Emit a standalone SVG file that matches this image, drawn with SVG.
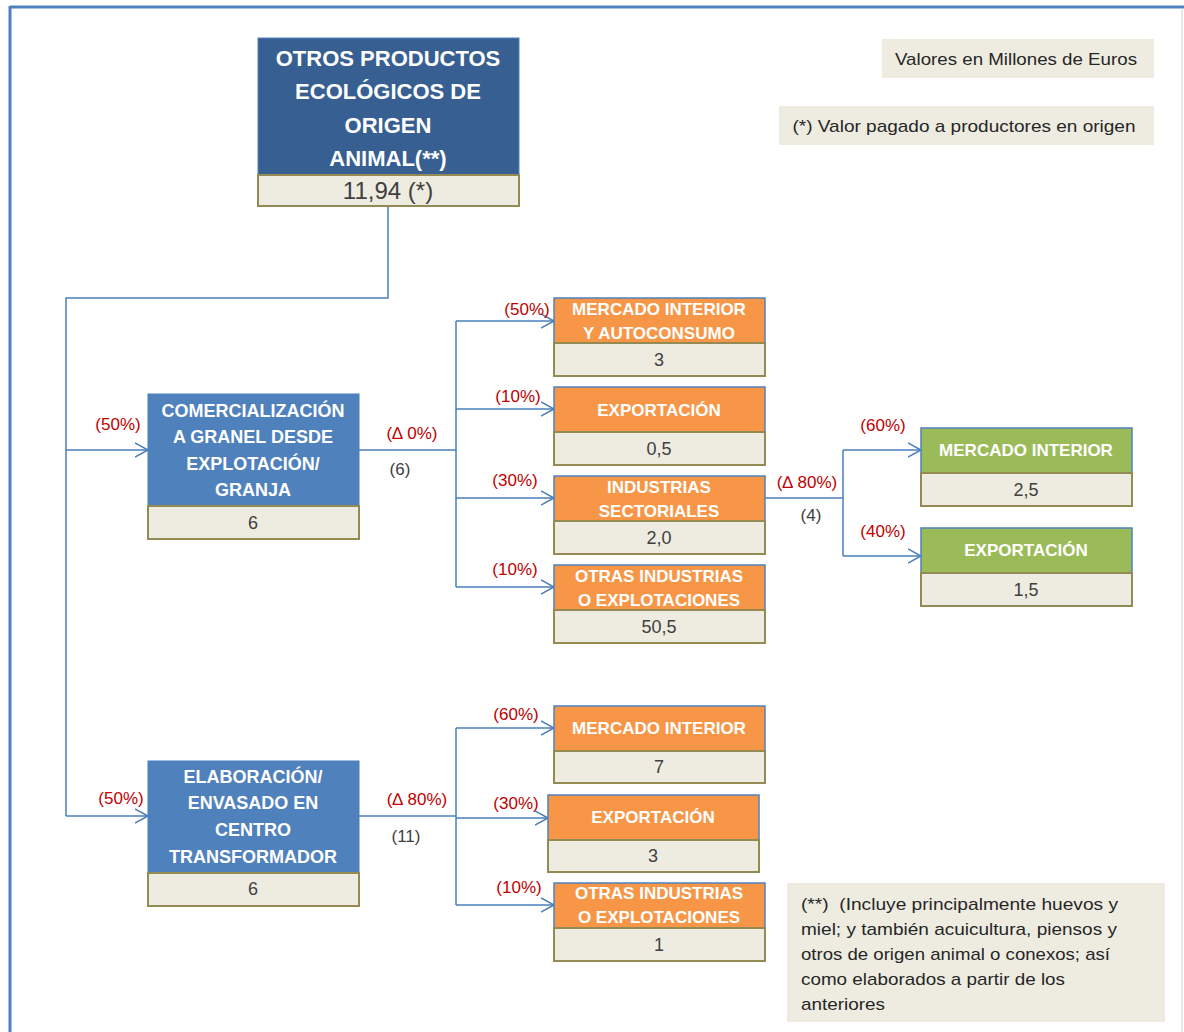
<svg xmlns="http://www.w3.org/2000/svg" width="1184" height="1032" viewBox="0 0 1184 1032">
<defs>
<marker id="arr" markerUnits="userSpaceOnUse" markerWidth="16" markerHeight="18" refX="13" refY="8" orient="auto">
<path d="M0,1 L13,8 L0,15" fill="none" stroke="#4a7ebb" stroke-width="1.5"/>
</marker>
<style>
text{font-family:"Liberation Sans",Arial,sans-serif;}
.conn{fill:none;stroke:#4a7ebb;stroke-width:1.5;}
.arw{marker-end:url(#arr);}
.val{fill:#eeece1;stroke:#948a54;stroke-width:2;}
.blue{fill:#4f81bd;stroke:#4a7ebb;stroke-width:1;}
.dark{fill:#375f91;stroke:#4f81bd;stroke-width:1;}
.orange{fill:#f79646;stroke:#4f81bd;stroke-width:1.5;}
.green{fill:#9bbb59;stroke:#4f81bd;stroke-width:1.5;}
.tw{fill:#fff;font-weight:bold;text-anchor:middle;dominant-baseline:central;}
.tv{fill:#404040;text-anchor:middle;dominant-baseline:central;font-size:18px;}
.big{font-size:24px;}
.pct{fill:#c00000;text-anchor:middle;dominant-baseline:central;font-size:17px;}
.num{fill:#404040;text-anchor:middle;dominant-baseline:central;font-size:17px;}
.note{fill:#262626;font-size:17px;dominant-baseline:central;}
.nbox{fill:#eeece1;}
</style>
</defs>
<rect x="0" y="0" width="1184" height="1032" fill="#fff"/>
<!-- frame -->
<line x1="10" y1="7" x2="1184" y2="7" stroke="#4f81bd" stroke-width="3"/>
<line x1="10" y1="6" x2="10" y2="1032" stroke="#4f81bd" stroke-width="3"/>
<line x1="1182" y1="8" x2="1182" y2="1032" stroke="#c8d3e0" stroke-width="1"/>

<!-- legends -->
<g id="legend-valores">
<rect class="nbox" x="882" y="39" width="272" height="39"/>
<text class="note" x="1016" y="59" text-anchor="middle" textLength="242" lengthAdjust="spacingAndGlyphs">Valores en Millones de Euros</text>
</g>
<g id="legend-origen">
<rect class="nbox" x="779" y="106" width="375" height="39"/>
<text class="note" x="964" y="126" text-anchor="middle" textLength="343" lengthAdjust="spacingAndGlyphs">(*) Valor pagado a productores en origen</text>
</g>
<g id="legend-nota">
<rect class="nbox" x="787" y="883" width="378" height="139"/>
<text class="note" x="801" y="904" textLength="317" lengthAdjust="spacingAndGlyphs">(**)&#160; (Incluye principalmente huevos y</text>
<text class="note" x="801" y="929" textLength="316" lengthAdjust="spacingAndGlyphs">miel; y también acuicultura, piensos y</text>
<text class="note" x="801" y="954" textLength="309" lengthAdjust="spacingAndGlyphs">otros de origen animal o conexos; así</text>
<text class="note" x="801" y="979" textLength="264" lengthAdjust="spacingAndGlyphs">como elaborados a partir de los</text>
<text class="note" x="801" y="1004" textLength="84" lengthAdjust="spacingAndGlyphs">anteriores</text>
</g>

<!-- connectors -->
<g id="connectors">
<polyline class="conn" points="388,206 388,298 66,298 66,816"/>
<line class="conn arw" x1="66" y1="450" x2="148" y2="450"/>
<line class="conn arw" x1="66" y1="816" x2="148" y2="816"/>
<line class="conn" x1="359" y1="450" x2="456" y2="450"/>
<line class="conn" x1="456" y1="321" x2="456" y2="587"/>
<line class="conn arw" x1="456" y1="321" x2="554" y2="321"/>
<line class="conn arw" x1="456" y1="409" x2="554" y2="409"/>
<line class="conn arw" x1="456" y1="498" x2="554" y2="498"/>
<line class="conn arw" x1="456" y1="587" x2="554" y2="587"/>
<line class="conn" x1="765" y1="498" x2="843" y2="498"/>
<line class="conn" x1="843" y1="450" x2="843" y2="556"/>
<line class="conn arw" x1="843" y1="450" x2="921" y2="450"/>
<line class="conn arw" x1="843" y1="556" x2="921" y2="556"/>
<line class="conn" x1="359" y1="816" x2="456" y2="816"/>
<line class="conn" x1="456" y1="728" x2="456" y2="905"/>
<line class="conn arw" x1="456" y1="728" x2="554" y2="728"/>
<line class="conn arw" x1="456" y1="818" x2="548" y2="818"/>
<line class="conn arw" x1="456" y1="905" x2="554" y2="905"/>
<text class="pct" x="118" y="424">(50%)</text>
<text class="pct" x="121" y="798">(50%)</text>
<text class="pct" x="412" y="433">(∆ 0%)</text>
<text class="num" x="400" y="469">(6)</text>
<text class="pct" x="527" y="309">(50%)</text>
<text class="pct" x="518" y="396">(10%)</text>
<text class="pct" x="515" y="480">(30%)</text>
<text class="pct" x="515" y="569">(10%)</text>
<text class="pct" x="807" y="482">(∆ 80%)</text>
<text class="num" x="811" y="515">(4)</text>
<text class="pct" x="883" y="425">(60%)</text>
<text class="pct" x="883" y="531">(40%)</text>
<text class="pct" x="417" y="799">(∆ 80%)</text>
<text class="num" x="406" y="836">(11)</text>
<text class="pct" x="516" y="714">(60%)</text>
<text class="pct" x="516" y="803">(30%)</text>
<text class="pct" x="519" y="887">(10%)</text>
</g>

<!-- root -->
<g id="node-root">
<rect class="dark" x="258" y="38" width="261" height="137"/>
<rect class="val" x="258" y="175" width="261" height="31"/>
<text class="tw" x="388" y="58" font-size="22">OTROS PRODUCTOS</text>
<text class="tw" x="388" y="91" font-size="22">ECOLÓGICOS DE</text>
<text class="tw" x="388" y="125" font-size="22">ORIGEN</text>
<text class="tw" x="388" y="158" font-size="22">ANIMAL(**)</text>
<text class="tv big" x="388" y="190">11,94 (*)</text>
</g>

<g id="node-comercializacion">
<rect class="blue" x="148" y="394" width="211" height="112"/>
<rect class="val" x="148" y="506" width="211" height="33"/>
<text class="tw" x="253" y="411" font-size="18">COMERCIALIZACIÓN</text>
<text class="tw" x="253" y="437" font-size="18">A GRANEL DESDE</text>
<text class="tw" x="253" y="464" font-size="18">EXPLOTACIÓN/</text>
<text class="tw" x="253" y="490" font-size="18">GRANJA</text>
<text class="tv" x="253" y="523">6</text>
</g>

<g id="node-elaboracion">
<rect class="blue" x="148" y="761" width="211" height="112"/>
<rect class="val" x="148" y="873" width="211" height="33"/>
<text class="tw" x="253" y="777" font-size="18">ELABORACIÓN/</text>
<text class="tw" x="253" y="803" font-size="18">ENVASADO EN</text>
<text class="tw" x="253" y="830" font-size="18">CENTRO</text>
<text class="tw" x="253" y="857" font-size="18">TRANSFORMADOR</text>
<text class="tv" x="253" y="889">6</text>
</g>

<g id="node-c-mercado">
<rect class="orange" x="554" y="298" width="211" height="45"/>
<rect class="val" x="554" y="343" width="211" height="33"/>
<text class="tw" x="659" y="309" font-size="17">MERCADO INTERIOR</text>
<text class="tw" x="659" y="333" font-size="17">Y AUTOCONSUMO</text>
<text class="tv" x="659" y="360">3</text>
</g>
<g id="node-c-export">
<rect class="orange" x="554" y="387" width="211" height="45"/>
<rect class="val" x="554" y="432" width="211" height="33"/>
<text class="tw" x="659" y="410" font-size="17">EXPORTACIÓN</text>
<text class="tv" x="659" y="449">0,5</text>
</g>
<g id="node-c-industrias">
<rect class="orange" x="554" y="476" width="211" height="45"/>
<rect class="val" x="554" y="521" width="211" height="33"/>
<text class="tw" x="659" y="487" font-size="17">INDUSTRIAS</text>
<text class="tw" x="659" y="511" font-size="17">SECTORIALES</text>
<text class="tv" x="659" y="538">2,0</text>
</g>
<g id="node-c-otras">
<rect class="orange" x="554" y="565" width="211" height="45"/>
<rect class="val" x="554" y="610" width="211" height="33"/>
<text class="tw" x="659" y="576" font-size="17">OTRAS INDUSTRIAS</text>
<text class="tw" x="659" y="600" font-size="17">O EXPLOTACIONES</text>
<text class="tv" x="659" y="627">50,5</text>
</g>

<g id="node-i-mercado">
<rect class="green" x="921" y="428" width="211" height="45"/>
<rect class="val" x="921" y="473" width="211" height="33"/>
<text class="tw" x="1026" y="450" font-size="17">MERCADO INTERIOR</text>
<text class="tv" x="1026" y="490">2,5</text>
</g>
<g id="node-i-export">
<rect class="green" x="921" y="528" width="211" height="45"/>
<rect class="val" x="921" y="573" width="211" height="33"/>
<text class="tw" x="1026" y="550" font-size="17">EXPORTACIÓN</text>
<text class="tv" x="1026" y="590">1,5</text>
</g>

<g id="node-e-mercado">
<rect class="orange" x="554" y="706" width="211" height="45"/>
<rect class="val" x="554" y="751" width="211" height="32"/>
<text class="tw" x="659" y="728" font-size="17">MERCADO INTERIOR</text>
<text class="tv" x="659" y="767">7</text>
</g>
<g id="node-e-export">
<rect class="orange" x="548" y="795" width="211" height="45"/>
<rect class="val" x="548" y="840" width="211" height="32"/>
<text class="tw" x="653" y="817" font-size="17">EXPORTACIÓN</text>
<text class="tv" x="653" y="856">3</text>
</g>
<g id="node-e-otras">
<rect class="orange" x="554" y="883" width="211" height="45"/>
<rect class="val" x="554" y="928" width="211" height="33"/>
<text class="tw" x="659" y="893" font-size="17">OTRAS INDUSTRIAS</text>
<text class="tw" x="659" y="917" font-size="17">O EXPLOTACIONES</text>
<text class="tv" x="659" y="945">1</text>
</g>
</svg>
